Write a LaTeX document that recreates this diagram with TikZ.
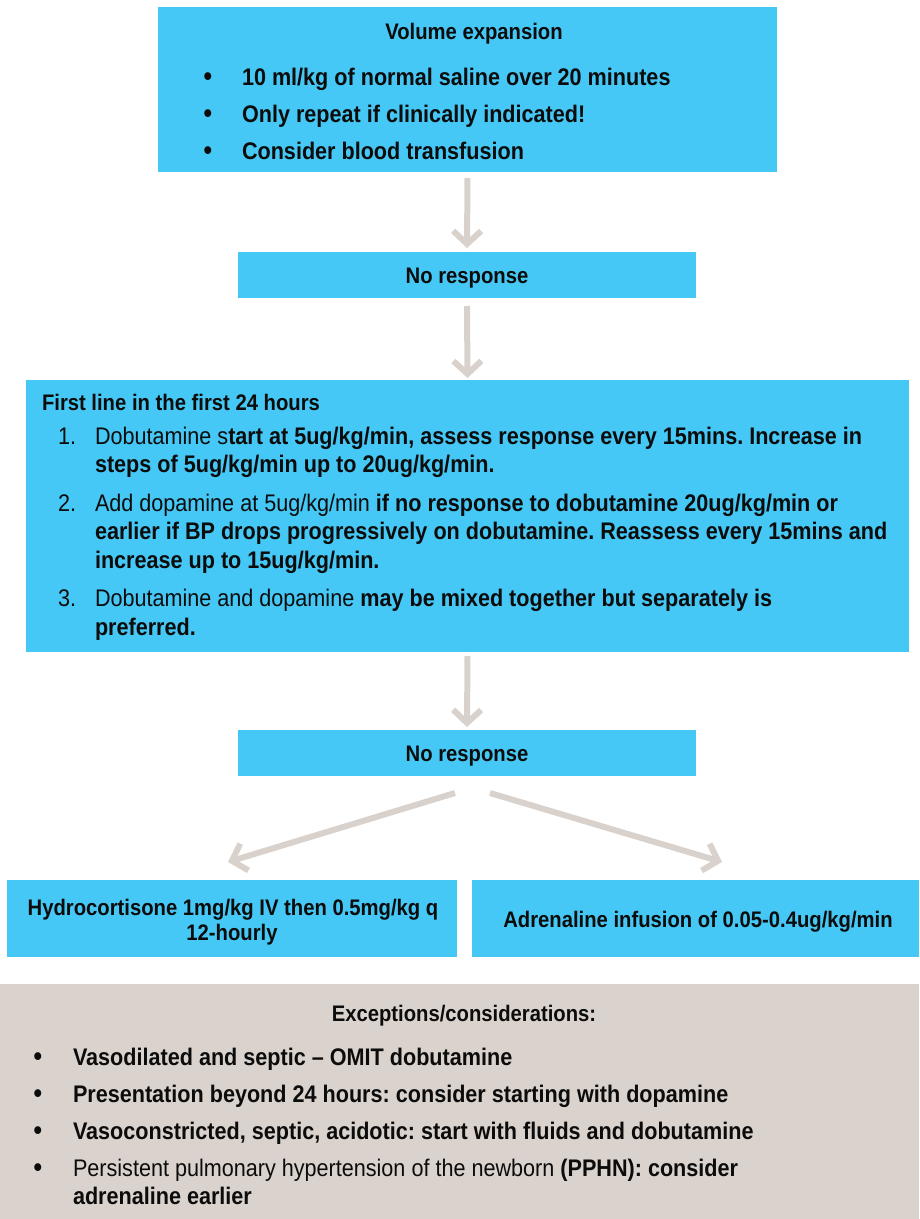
\documentclass[tikz,border=0pt]{standalone}
\usepackage{fontspec}
\setmainfont{Liberation Sans}[FakeStretch=0.9]
\usetikzlibrary{arrows.meta,calc}
\frenchspacing

\definecolor{flowblue}{RGB}{69,200,245}
\definecolor{notetan}{RGB}{218,210,204}
\definecolor{arrowtan}{RGB}{217,210,204}
\definecolor{softblack}{RGB}{12,12,12}

\newcommand\bodysz{\fontsize{24}{29}\selectfont}
\newcommand\headsz{\fontsize{22.5}{27}\selectfont}
\newcommand\bulsz{\fontsize{27}{29}\selectfont\bfseries}

\tikzset{
  box/.style={fill=flowblue, draw=none, inner sep=0pt, outer sep=0pt},
  notebox/.style={fill=notetan, draw=none, inner sep=0pt, outer sep=0pt},
  flowarrow/.style={draw=arrowtan, line width=6pt, line cap=butt,
    -{Straight Barb[length=13pt,width=28pt,line cap=butt,line join=miter]}},
  txt/.style={inner sep=0pt, outer sep=0pt, anchor=base west, text=softblack, font=\bodysz},
  ctxt/.style={inner sep=0pt, outer sep=0pt, anchor=base, text=softblack},
  bul/.style={inner sep=0pt, outer sep=0pt, anchor=base, text=softblack, font=\bulsz}
}

\begin{document}
\begin{tikzpicture}[x=1pt,y=-1pt]
\useasboundingbox (0,0) rectangle (919,1219);

% ---- boxes ----
\node[box, minimum width=619pt, minimum height=165pt] (vol) at (467.5,89.5) {};
\node[box, minimum width=458pt, minimum height=46pt] (nr1) at (467,275) {};
\node[box, minimum width=883pt, minimum height=272pt] (first) at (467.5,516) {};
\node[box, minimum width=458pt, minimum height=46pt] (nr2) at (467,753) {};
\node[box, minimum width=450pt, minimum height=77pt] (hydro) at (232,918.5) {};
\node[box, minimum width=447pt, minimum height=77pt] (adren) at (695.5,918.5) {};
\node[notebox, minimum width=919pt, minimum height=235pt] (exc) at (459.5,1101.5) {};

% ---- connectors ----
\draw[flowarrow] ($(vol.south)+(0,6)$) -- ($(nr1.north)+(0,-4)$);
\draw[flowarrow] ($(nr1.south)+(0,8)$) -- ($(first.north)+(0,-2)$);
\draw[flowarrow] ($(first.south)+(0,4)$) -- ($(nr2.north)+(0,-3)$);
\coordinate (splitL) at ($(nr2.south)+(-12,17)$);
\coordinate (splitR) at ($(nr2.south)+(23,17)$);
\draw[flowarrow] (splitL) -- ($(hydro.north)+(-4,-18)$);
\draw[flowarrow] (splitR) -- ($(adren.north)+(26.5,-18)$);

% ---- volume expansion ----
\node[ctxt, font=\headsz\bfseries] (volh) at (474,39) {Volume expansion};
\node[bul] (vb1) at (208,85) {•};
\node[txt, font=\bodysz\bfseries] (vl1) at (242,85) {10 ml/kg of normal saline over 20 minutes};
\node[bul] (vb2) at (208,122) {•};
\node[txt, font=\bodysz\bfseries] (vl2) at (242,122) {Only repeat if clinically indicated!};
\node[bul] (vb3) at (208,159) {•};
\node[txt, font=\bodysz\bfseries] (vl3) at (242,159) {Consider blood transfusion};

% ---- no response ----
\node[ctxt, font=\headsz\bfseries] (nr1t) at (467,283) {No response};
\node[ctxt, font=\headsz\bfseries] (nr2t) at (467,761) {No response};

% ---- first line ----
\node[txt, font=\headsz\bfseries] (fh) at (42,410) {First line in the first 24 hours};
\node[txt] (n1) at (58,444) {1.};
\node[txt] (f1a) at (95,444) {Dobutamine s\textbf{tart at 5ug/kg/min, assess response every 15mins. Increase in}};
\node[txt, font=\bodysz\bfseries] (f1b) at (95,472) {steps of 5ug/kg/min up to 20ug/kg/min.};
\node[txt] (n2) at (58,511) {2.};
\node[txt] (f2a) at (95,511) {Add dopamine at 5ug/kg/min \textbf{if no response to dobutamine 20ug/kg/min or}};
\node[txt, font=\bodysz\bfseries] (f2b) at (95,539) {earlier if BP drops progressively on dobutamine. Reassess every 15mins and};
\node[txt, font=\bodysz\bfseries] (f2c) at (95,568) {increase up to 15ug/kg/min.};
\node[txt] (n3) at (58,606) {3.};
\node[txt] (f3a) at (95,606) {Dobutamine and dopamine \textbf{may be mixed together but separately is}};
\node[txt, font=\bodysz\bfseries] (f3b) at (95,635) {preferred.};

% ---- branches ----
\node[ctxt, font=\headsz\bfseries] (h1) at (233,915) {Hydrocortisone 1mg/kg IV then 0.5mg/kg q};
\node[ctxt, font=\headsz\bfseries] (h2) at (232,940) {12-hourly};
\node[ctxt, font=\headsz\bfseries] (a1) at (698,927) {Adrenaline infusion of 0.05-0.4ug/kg/min};

% ---- exceptions ----
\node[ctxt, font=\headsz\bfseries] (eh) at (464,1021) {Exceptions/considerations:};
\node[bul] (eb1) at (38,1065) {•};
\node[txt, font=\bodysz\bfseries] (e1) at (73,1065) {Vasodilated and septic – OMIT dobutamine};
\node[bul] (eb2) at (38,1102) {•};
\node[txt, font=\bodysz\bfseries] (e2) at (73,1102) {Presentation beyond 24 hours: consider starting with dopamine};
\node[bul] (eb3) at (38,1139) {•};
\node[txt, font=\bodysz\bfseries] (e3) at (73,1139) {Vasoconstricted, septic, acidotic: start with fluids and dobutamine};
\node[bul] (eb4) at (38,1176) {•};
\node[txt] (e4a) at (73,1176) {Persistent pulmonary hypertension of the newborn \textbf{(PPHN): consider}};
\node[txt, font=\bodysz\bfseries] (e4b) at (73,1204) {adrenaline earlier};
\end{tikzpicture}
\end{document}
